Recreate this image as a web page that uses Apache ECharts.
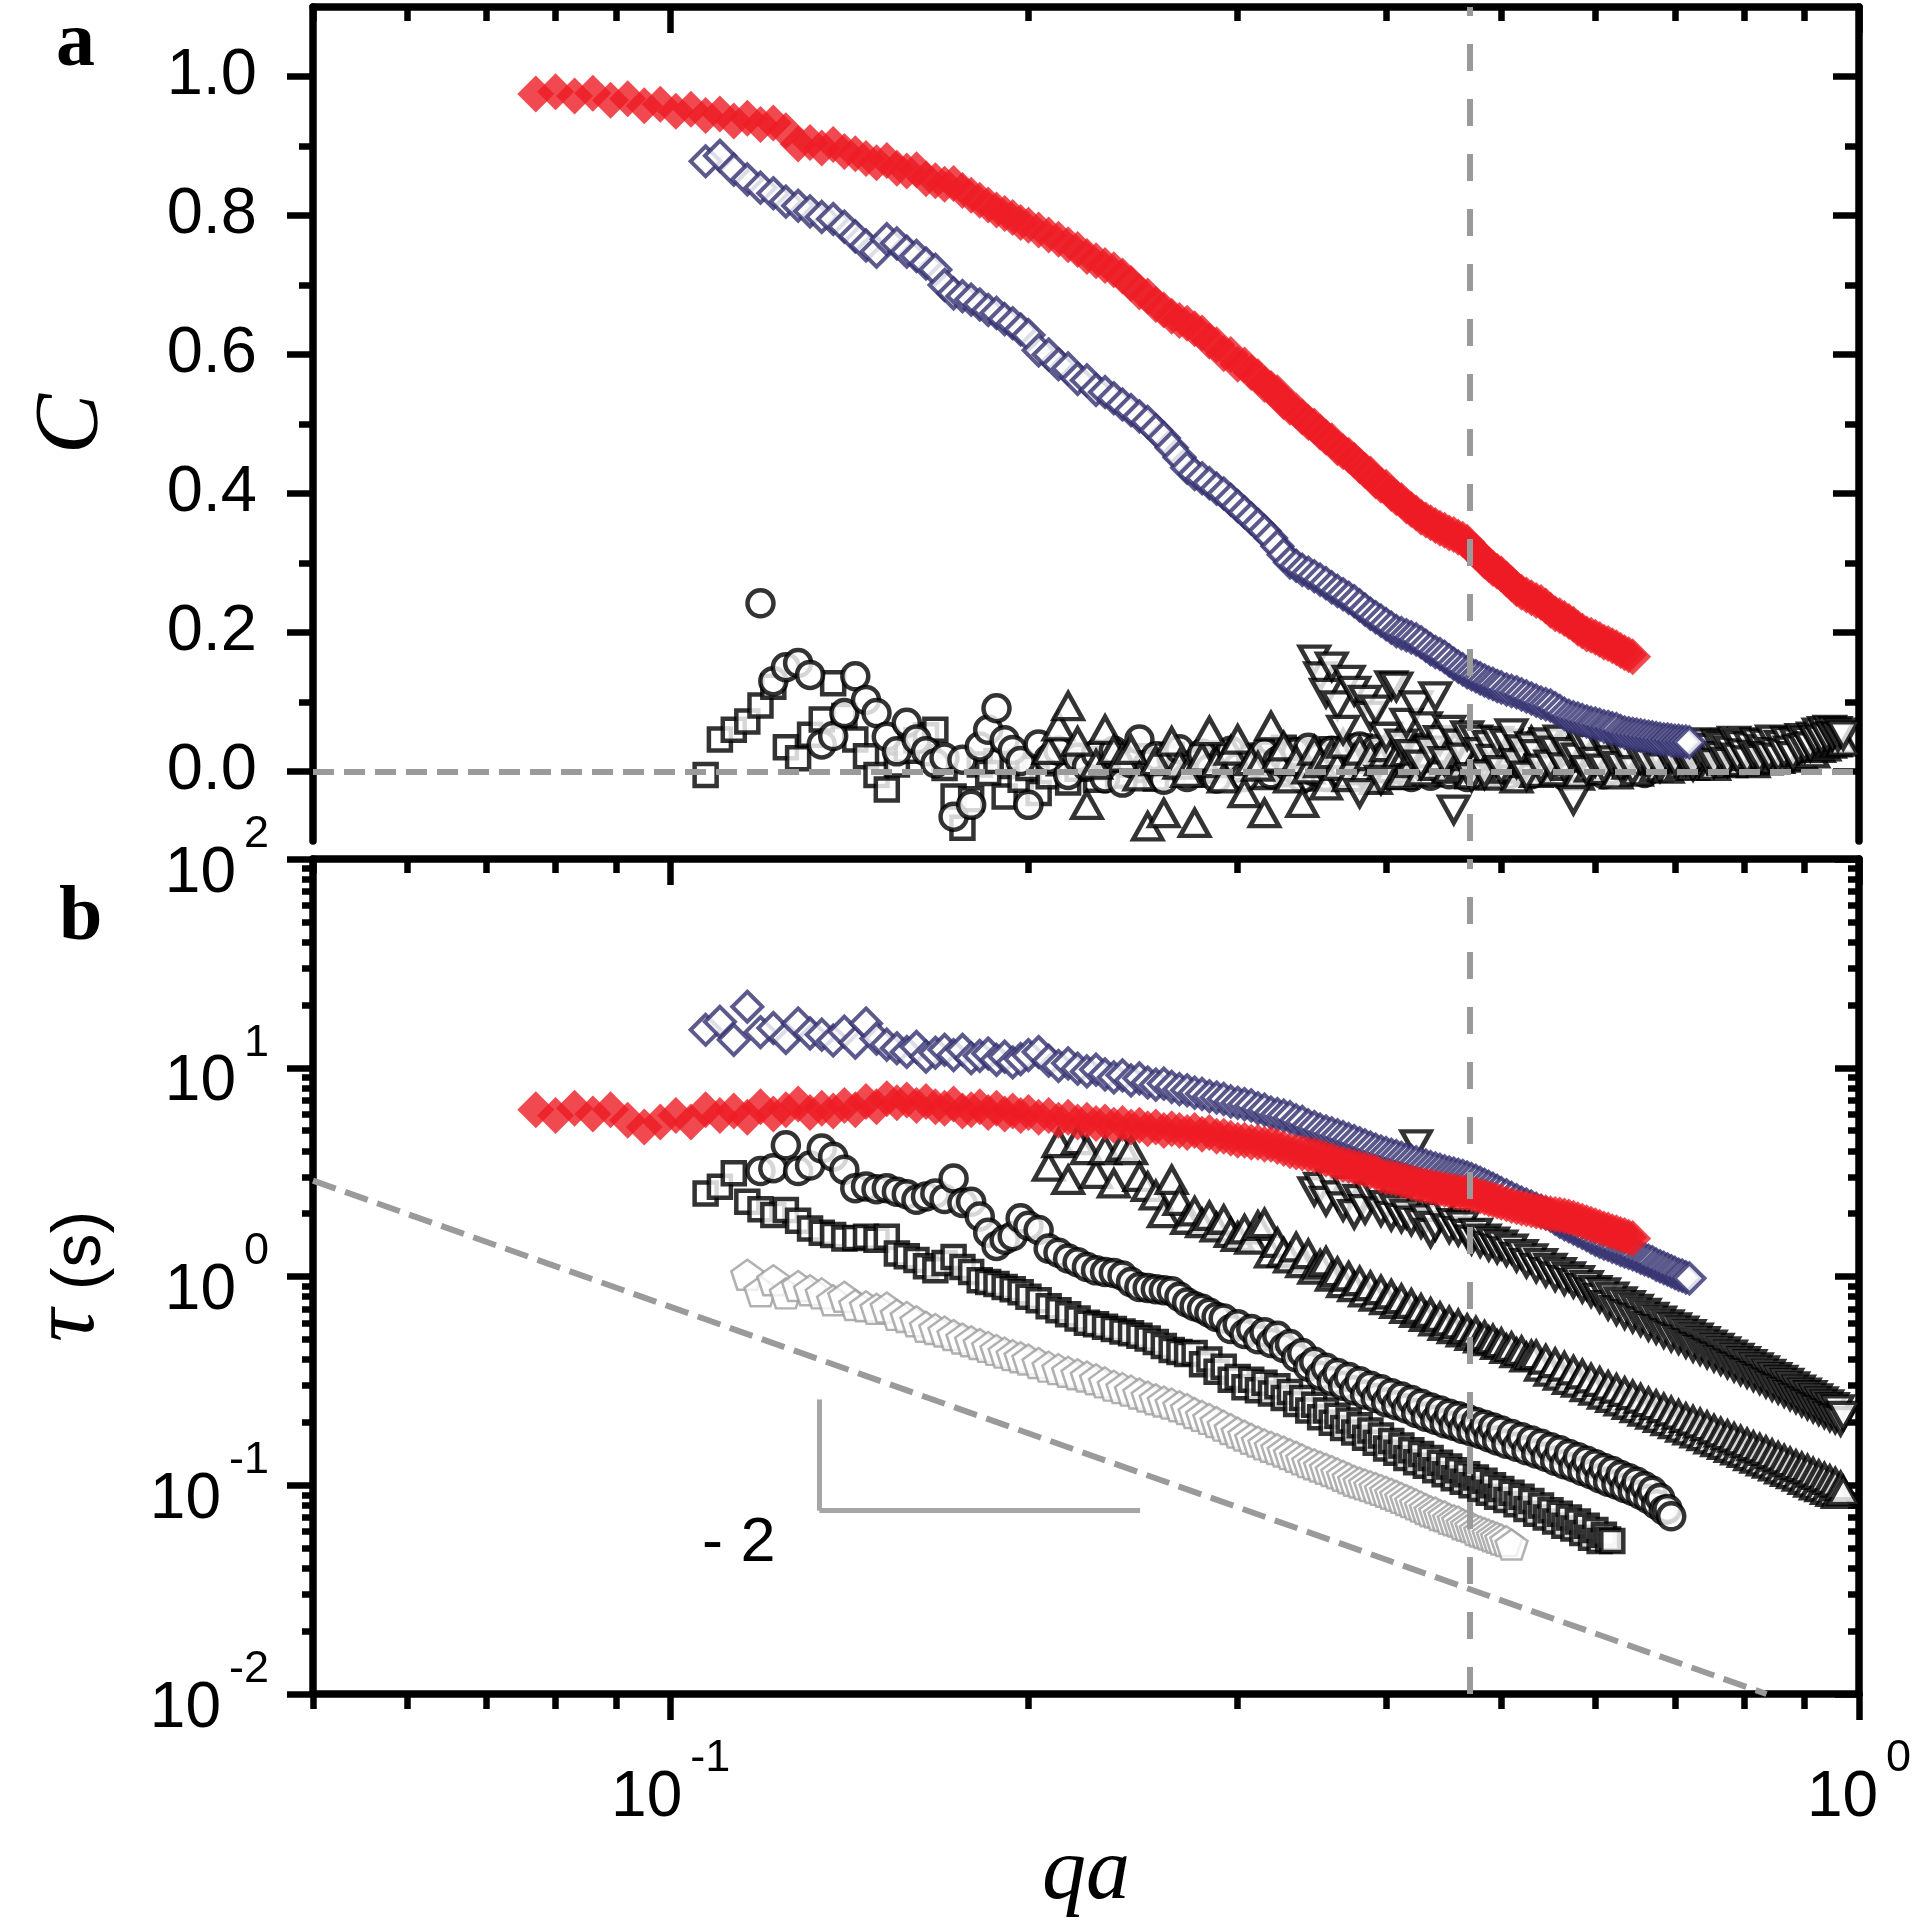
<!DOCTYPE html>
<html>
<head>
<meta charset="utf-8">
<title>C and tau against qa</title>
<script src="https://cdn.jsdelivr.net/npm/echarts@6/dist/echarts.min.js"></script>
<style>
  html, body { margin: 0; padding: 0; background: #fff; }
  #chart { width: 1918px; height: 1923px; }
</style>
</head>
<body>
<div id="chart"></div>
<script>
// qa values shared by all data sets (each set starts at its own index)
const qa = [
  0.077, 0.080, 0.083, 0.086, 0.089, 0.092, 0.095, 0.098, 0.101, 0.104,
  0.107, 0.110, 0.113, 0.116, 0.119, 0.122, 0.125, 0.128, 0.131, 0.134,
  0.137, 0.140, 0.143, 0.146, 0.149, 0.152, 0.155, 0.158, 0.161, 0.164,
  0.167, 0.170, 0.173, 0.176, 0.179, 0.182, 0.185, 0.188, 0.191, 0.194,
  0.197, 0.200, 0.204, 0.208, 0.212, 0.216, 0.220, 0.224, 0.228, 0.232,
  0.236, 0.240, 0.244, 0.248, 0.252, 0.256, 0.260, 0.264, 0.268, 0.272,
  0.276, 0.280, 0.284, 0.288, 0.292, 0.296, 0.300, 0.304, 0.308, 0.312,
  0.316, 0.320, 0.324, 0.328, 0.332, 0.336, 0.340, 0.344, 0.348, 0.352,
  0.356, 0.360, 0.364, 0.368, 0.372, 0.376, 0.380, 0.384, 0.388, 0.392,
  0.396, 0.400, 0.404, 0.408, 0.412, 0.416, 0.420, 0.424, 0.428, 0.432,
  0.436, 0.440, 0.444, 0.448, 0.452, 0.456, 0.460, 0.464, 0.468, 0.472,
  0.476, 0.480, 0.484, 0.488, 0.492, 0.496, 0.500, 0.505, 0.510, 0.515,
  0.520, 0.525, 0.530, 0.535, 0.540, 0.545, 0.550, 0.555, 0.560, 0.565,
  0.570, 0.575, 0.580, 0.585, 0.590, 0.595, 0.600, 0.605, 0.610, 0.615,
  0.620, 0.625, 0.630, 0.635, 0.640, 0.645, 0.650, 0.655, 0.660, 0.665,
  0.670, 0.675, 0.680, 0.685, 0.690, 0.695, 0.700, 0.705, 0.710, 0.715,
  0.720, 0.725, 0.730, 0.735, 0.740, 0.745, 0.750, 0.755, 0.760, 0.765,
  0.770, 0.775, 0.780, 0.785, 0.790, 0.795, 0.800, 0.805, 0.810, 0.815,
  0.820, 0.825, 0.830, 0.835, 0.840, 0.845, 0.850, 0.855, 0.860, 0.865,
  0.870, 0.875, 0.880, 0.885, 0.890, 0.895, 0.900, 0.905, 0.910, 0.915,
  0.920, 0.925, 0.930, 0.935, 0.940, 0.945, 0.950, 0.955, 0.960, 0.965,
  0.970
];

// red filled diamonds
const redStart = 0;
const redC = [
  0.975, 0.978, 0.972, 0.976, 0.966, 0.968, 0.958, 0.960, 0.950, 0.953,
  0.944, 0.946, 0.936, 0.940, 0.931, 0.933, 0.922, 0.903, 0.905, 0.897,
  0.902, 0.892, 0.889, 0.882, 0.876, 0.879, 0.868, 0.864, 0.866, 0.853,
  0.850, 0.845, 0.846, 0.836, 0.829, 0.822, 0.815, 0.808, 0.803, 0.797,
  0.790, 0.786, 0.779, 0.772, 0.766, 0.758, 0.751, 0.741, 0.735, 0.728,
  0.722, 0.713, 0.702, 0.690, 0.684, 0.672, 0.664, 0.655, 0.649, 0.645,
  0.637, 0.631, 0.619, 0.614, 0.601, 0.600, 0.586, 0.585, 0.574, 0.568,
  0.557, 0.551, 0.545, 0.532, 0.524, 0.519, 0.510, 0.502, 0.497, 0.488,
  0.481, 0.476, 0.466, 0.460, 0.455, 0.448, 0.440, 0.433, 0.428, 0.418,
  0.412, 0.409, 0.400, 0.394, 0.390, 0.382, 0.377, 0.372, 0.366, 0.362,
  0.358, 0.354, 0.350, 0.347, 0.343, 0.341, 0.337, 0.334, 0.330, 0.322,
  0.316, 0.310, 0.303, 0.298, 0.292, 0.288, 0.284, 0.277, 0.270, 0.263,
  0.258, 0.254, 0.250, 0.246, 0.243, 0.238, 0.232, 0.227, 0.224, 0.220,
  0.216, 0.212, 0.206, 0.202, 0.198, 0.196, 0.193, 0.190, 0.186, 0.184,
  0.181, 0.178, 0.174, 0.171, 0.168, 0.165
];
const redTau = [
  6.3, 5.9, 6.4, 6.0, 6.3, 5.6, 5.2, 5.5, 5.9, 5.5,
  6.3, 5.9, 6.2, 5.8, 6.5, 6.0, 6.3, 6.7, 6.1, 6.4,
  6.2, 6.6, 6.3, 6.9, 6.5, 7.1, 6.8, 7.0, 6.6, 6.9,
  6.5, 6.4, 6.7, 6.2, 6.3, 6.5, 6.1, 6.4, 6.0, 6.2,
  5.9, 6.1, 5.8, 5.9, 5.6, 5.8, 5.5, 5.6, 5.4, 5.5,
  5.3, 5.4, 5.2, 5.3, 5.1, 5.2, 5.0, 5.1, 5.0, 4.9,
  5.0, 4.8, 4.9, 4.7, 4.7, 4.6, 4.5, 4.5, 4.4, 4.4,
  4.3, 4.3, 4.2, 4.1, 4.0, 3.95, 3.9, 3.85, 3.8, 3.75,
  3.65, 3.6, 3.5, 3.45, 3.4, 3.35, 3.3, 3.25, 3.2, 3.15,
  3.05, 3.0, 2.98, 2.94, 2.9, 2.86, 2.82, 2.78, 2.75, 2.72,
  2.69, 2.66, 2.63, 2.61, 2.58, 2.56, 2.54, 2.52, 2.51, 2.49,
  2.46, 2.43, 2.40, 2.36, 2.33, 2.30, 2.27, 2.23, 2.19, 2.16,
  2.13, 2.11, 2.09, 2.06, 2.04, 2.02, 2.00, 1.98, 1.97, 1.95,
  1.93, 1.90, 1.87, 1.84, 1.81, 1.78, 1.75, 1.72, 1.69, 1.67,
  1.64, 1.62, 1.59, 1.57, 1.54, 1.52
];

// navy open diamonds
const navyStart = 10;
const navyC = [
  0.878, 0.886, 0.866, 0.852, 0.840, 0.832, 0.820, 0.814, 0.806, 0.798,
  0.795, 0.784, 0.770, 0.757, 0.748, 0.766, 0.760, 0.748, 0.742, 0.731,
  0.722, 0.700, 0.688, 0.684, 0.679, 0.672, 0.664, 0.660, 0.651, 0.645,
  0.636, 0.628, 0.606, 0.600, 0.586, 0.580, 0.565, 0.563, 0.549, 0.546,
  0.537, 0.528, 0.520, 0.511, 0.503, 0.491, 0.480, 0.466, 0.452, 0.437,
  0.428, 0.422, 0.415, 0.407, 0.400, 0.391, 0.382, 0.373, 0.364, 0.355,
  0.346, 0.336, 0.324, 0.312, 0.301, 0.296, 0.290, 0.286, 0.281, 0.276,
  0.271, 0.265, 0.260, 0.255, 0.250, 0.245, 0.239, 0.233, 0.227, 0.222,
  0.217, 0.212, 0.207, 0.202, 0.199, 0.196, 0.193, 0.190, 0.186, 0.181,
  0.176, 0.172, 0.169, 0.165, 0.160, 0.155, 0.151, 0.147, 0.143, 0.140,
  0.137, 0.134, 0.131, 0.128, 0.126, 0.123, 0.121, 0.118, 0.116, 0.114,
  0.111, 0.108, 0.105, 0.102, 0.099, 0.097, 0.095, 0.091, 0.087, 0.083,
  0.080, 0.078, 0.076, 0.074, 0.072, 0.070, 0.069, 0.067, 0.065, 0.064,
  0.062, 0.061, 0.058, 0.056, 0.055, 0.054, 0.053, 0.052, 0.051, 0.050,
  0.049, 0.048, 0.047, 0.046, 0.046, 0.045, 0.044, 0.044, 0.043, 0.043,
  0.042
];
const navyTau = [
  15.2, 16.6, 13.6, 19.6, 14.8, 15.5, 13.9, 16.3, 14.6, 14.4,
  13.5, 14.9, 13.2, 16.3, 13.8, 12.9, 12.4, 11.9, 12.6, 11.3,
  11.8, 12.2, 11.5, 12.2, 11.1, 11.4, 11.7, 10.9, 11.3, 10.6,
  11.0, 11.5, 11.9, 10.8, 10.2, 10.5, 9.9, 9.6, 9.8, 9.3,
  9.0, 9.2, 8.7, 8.9, 8.5, 8.3, 8.4, 8.1, 7.9, 7.8,
  7.6, 7.5, 7.3, 7.2, 7.1, 6.9, 6.8, 6.7, 6.6, 6.4,
  6.3, 6.1, 6.0, 5.9, 5.8, 5.6, 5.5, 5.3, 5.2, 5.05,
  4.95, 4.85, 4.75, 4.65, 4.55, 4.45, 4.35, 4.25, 4.15, 4.05,
  3.97, 3.9, 3.83, 3.77, 3.7, 3.64, 3.58, 3.52, 3.46, 3.40,
  3.34, 3.29, 3.24, 3.19, 3.15, 3.11, 3.07, 3.03, 2.98, 2.93,
  2.87, 2.81, 2.75, 2.69, 2.63, 2.57, 2.51, 2.45, 2.38, 2.32,
  2.26, 2.21, 2.16, 2.11, 2.06, 2.01, 1.96, 1.89, 1.83, 1.78,
  1.74, 1.70, 1.66, 1.62, 1.58, 1.54, 1.50, 1.47, 1.44, 1.42,
  1.39, 1.37, 1.34, 1.32, 1.30, 1.28, 1.26, 1.23, 1.21, 1.19,
  1.17, 1.14, 1.12, 1.10, 1.08, 1.06, 1.04, 1.02, 1.01, 0.99,
  0.98
];

// open circles
const circStart = 14;
const circC = [
  0.242, 0.130, 0.150, 0.156, 0.139, 0.039, 0.051, 0.084, 0.137, 0.103,
  0.084, 0.050, 0.029, 0.070, 0.046, 0.029, 0.012, 0.020, -0.065, 0.017,
  -0.048, 0.036, 0.060, 0.091, 0.045, 0.031, 0.015, -0.048, 0.039, 0.018,
  0.030, -0.005, 0.020, 0.007, 0.025, -0.010, 0.030, -0.016, 0.012, 0.046,
  0.010, 0.022, -0.012, 0.018, 0.032, -0.008, 0.012, 0.026, 0.004, -0.010,
  0.018, 0.030, 0.006, -0.008, 0.020, 0.012, 0.028, -0.004, 0.015, 0.022,
  0.005, 0.028, -0.010, 0.034, 0.000, 0.022, -0.008, 0.030, 0.012, -0.004,
  0.026, 0.004, 0.036, -0.006, 0.020, 0.032, -0.010, 0.024, 0.008, 0.035,
  0.002, 0.028, -0.008, 0.018, 0.034, 0.006, -0.006, 0.030, 0.014, 0.024,
  -0.004, 0.032, 0.010, 0.026, -0.008, 0.022, 0.036, 0.004, 0.018, -0.002,
  0.030, 0.012, 0.024, -0.006, 0.034, 0.008, 0.020, 0.028, -0.004, 0.016,
  0.032, 0.002, 0.022, 0.010, 0.030, -0.006, 0.018, 0.026, 0.006, 0.034,
  0.000, 0.024, 0.014, 0.030, -0.004, 0.020, 0.028, 0.008, 0.016, 0.032,
  0.004, 0.022, 0.012, 0.030, -0.002, 0.018, 0.026, 0.010, 0.020, 0.006,
  0.024, 0.014
];
const circTau = [
  3.2, 3.3, 4.25, 3.2, 3.4, 4.1, 3.75, 3.25, 2.65, 2.7,
  2.62, 2.65, 2.55, 2.48, 2.33, 2.42, 2.5, 2.35, 2.95, 2.25,
  2.28, 1.94, 1.62, 1.40, 1.50, 1.56, 1.90, 1.75, 1.67, 1.36,
  1.30, 1.22, 1.17, 1.11, 1.07, 1.05, 1.04, 1.01, 0.94, 0.89,
  0.88, 0.87, 0.86, 0.85, 0.80, 0.75, 0.72, 0.70, 0.67, 0.64,
  0.63, 0.56, 0.59, 0.53, 0.56, 0.50, 0.54, 0.48, 0.52, 0.455,
  0.475, 0.41, 0.43, 0.37, 0.39, 0.335, 0.365, 0.315, 0.345, 0.30,
  0.33, 0.285, 0.315, 0.272, 0.30, 0.262, 0.288, 0.25, 0.276, 0.242,
  0.266, 0.233, 0.256, 0.222, 0.246, 0.213, 0.236, 0.206, 0.228, 0.198,
  0.22, 0.193, 0.214, 0.186, 0.208, 0.181, 0.201, 0.176, 0.195, 0.170,
  0.189, 0.164, 0.183, 0.158, 0.176, 0.153, 0.170, 0.147, 0.164, 0.142,
  0.158, 0.137, 0.152, 0.131, 0.147, 0.126, 0.141, 0.122, 0.136, 0.117,
  0.131, 0.113, 0.126, 0.108, 0.121, 0.104, 0.117, 0.101, 0.112, 0.097,
  0.108, 0.094, 0.104, 0.090, 0.099, 0.086, 0.094, 0.081, 0.087, 0.076,
  0.077, 0.071
];

// open squares
const sqStart = 10;
const sqC = [
  -0.005, 0.046, 0.060, 0.072, 0.095, 0.122, 0.035, 0.019, 0.053, 0.075,
  0.127, 0.080, 0.046, 0.022, -0.005, -0.026, 0.010, 0.030, 0.045, 0.052,
  0.060, 0.005, -0.036, -0.081, -0.040, 0.010, -0.002, 0.015, -0.036, 0.008,
  -0.012, 0.005, -0.031, -0.007, 0.012, -0.016, 0.004, 0.018, -0.012, 0.006,
  0.015, -0.006, 0.010, 0.022, 0.002, -0.010, 0.016, 0.024, 0.005, 0.012,
  -0.004, 0.020, 0.008, 0.015, 0.026, 0.003, 0.012, 0.020, 0.006, 0.017,
  -0.008, 0.026, 0.006, 0.034, -0.004, 0.020, 0.030, 0.002, 0.024, -0.010,
  0.018, 0.032, 0.004, 0.026, -0.006, 0.014, 0.036, 0.008, 0.022, -0.002,
  0.030, 0.010, 0.024, -0.008, 0.016, 0.034, 0.002, 0.020, 0.028, 0.006,
  -0.004, 0.026, 0.012, 0.032, 0.000, 0.018, 0.030, 0.008, -0.006, 0.022,
  0.034, 0.004, 0.016, 0.028, -0.002, 0.020, 0.010, 0.030, 0.006, 0.024,
  -0.004, 0.018, 0.032, 0.008, 0.022, 0.000, 0.028, 0.014, 0.034, 0.004,
  0.020, 0.010, 0.030, -0.002, 0.024, 0.012, 0.018, 0.030, 0.006, 0.016,
  0.022
];
const sqTau = [
  2.50, 2.69, 3.12, 2.28, 2.10, 1.97, 2.08, 1.85, 1.70, 1.62,
  1.58, 1.52, 1.53, 1.55, 1.50, 1.55, 1.29, 1.25, 1.20, 1.12,
  1.07, 1.16, 1.24, 1.11, 1.05, 0.96, 0.94, 0.92, 0.89, 0.87,
  0.84, 0.80, 0.77, 0.72, 0.69, 0.66, 0.63, 0.60, 0.59, 0.575,
  0.56, 0.545, 0.535, 0.52, 0.505, 0.485, 0.465, 0.445, 0.435, 0.425,
  0.43, 0.38, 0.40, 0.35, 0.37, 0.32, 0.33, 0.295, 0.32, 0.285,
  0.31, 0.275, 0.298, 0.262, 0.28, 0.245, 0.262, 0.228, 0.243, 0.212,
  0.228, 0.199, 0.215, 0.188, 0.204, 0.179, 0.194, 0.169, 0.183, 0.160,
  0.173, 0.150, 0.163, 0.143, 0.155, 0.135, 0.147, 0.129, 0.141, 0.124,
  0.135, 0.118, 0.128, 0.113, 0.123, 0.108, 0.118, 0.104, 0.113, 0.100,
  0.109, 0.096, 0.105, 0.092, 0.100, 0.088, 0.096, 0.085, 0.092, 0.081,
  0.088, 0.077, 0.084, 0.073, 0.080, 0.070, 0.076, 0.067, 0.073, 0.064,
  0.070, 0.062, 0.067, 0.059, 0.064, 0.056, 0.061, 0.054, 0.058, 0.055,
  0.054
];

// grey open pentagons (lower panel only)
const pentStart = 13;
const pentTau = [
  1.02, 0.85, 0.96, 0.83, 0.90, 0.86, 0.83, 0.77, 0.80, 0.73,
  0.72, 0.70, 0.71, 0.655, 0.64, 0.61, 0.575, 0.56, 0.545, 0.525,
  0.505, 0.49, 0.475, 0.46, 0.445, 0.432, 0.42, 0.41, 0.40, 0.385,
  0.37, 0.36, 0.35, 0.34, 0.332, 0.322, 0.311, 0.30, 0.292, 0.284,
  0.275, 0.266, 0.258, 0.252, 0.246, 0.239, 0.232, 0.222, 0.215, 0.208,
  0.201, 0.193, 0.186, 0.179, 0.173, 0.167, 0.162, 0.157, 0.153, 0.149,
  0.145, 0.141, 0.137, 0.133, 0.129, 0.126, 0.123, 0.12, 0.117, 0.114,
  0.111, 0.108, 0.105, 0.103, 0.101, 0.099, 0.097, 0.095, 0.093, 0.091,
  0.089, 0.087, 0.085, 0.083, 0.081, 0.079, 0.077, 0.075, 0.074, 0.072,
  0.071, 0.069, 0.068, 0.067, 0.065, 0.064, 0.063, 0.061, 0.060, 0.059,
  0.058, 0.057, 0.056, 0.055, 0.054, 0.052
];

// open up-triangles
const upStart = 43;
const upC = [
  0.031, 0.065, 0.094, 0.043, -0.048, 0.010, 0.060, 0.031, 0.020, 0.031,
  -0.007, -0.079, 0.015, -0.060, 0.043, 0.010, -0.002, -0.074, 0.020, 0.058,
  0.012, -0.010, 0.030, 0.046, -0.031, 0.015, 0.007, -0.060, 0.065, 0.020,
  0.036, -0.010, 0.015, -0.045, 0.003, 0.030, 0.012, -0.020, 0.025, 0.008,
  0.040, -0.008, 0.018, 0.030, 0.002, 0.022, -0.012, 0.015, 0.035, 0.005,
  0.020, -0.005, 0.028, 0.012, 0.030, 0.000, 0.018, 0.026, 0.008, 0.020,
  0.032, 0.004, 0.016, 0.025, 0.010, 0.022, -0.004, 0.015, 0.028, 0.012,
  0.030, -0.006, 0.022, 0.040, 0.004, 0.026, -0.010, 0.034, 0.012, 0.044,
  -0.002, 0.028, 0.016, 0.038, 0.000, 0.024, 0.042, 0.008, 0.030, -0.006,
  0.020, 0.036, 0.006, 0.028, 0.044, 0.002, 0.024, 0.034, -0.004, 0.018,
  0.040, 0.010, 0.030, 0.000, 0.036, 0.016, 0.026, 0.042, 0.006, 0.022,
  0.034, 0.004, 0.028, 0.018, 0.040, 0.010, 0.024, 0.032, 0.008, 0.036,
  0.014, 0.030, 0.020, 0.038, 0.008, 0.026, 0.034, 0.016, 0.040, 0.012,
  0.028, 0.036, 0.014, 0.032, 0.022, 0.040, 0.012, 0.030, 0.024, 0.038,
  0.016, 0.034, 0.026, 0.040, 0.018, 0.032, 0.024, 0.042, 0.020, 0.036,
  0.028, 0.044, 0.022, 0.038, 0.030, 0.046, 0.026, 0.042, 0.034, 0.050,
  0.036, 0.048, 0.040, 0.054, 0.042, 0.050, 0.046, 0.043
];
const upTau = [
  3.36, 4.36, 2.90, 4.50, 4.03, 3.10, 4.03, 2.79, 4.19, 4.03,
  3.00, 2.69, 2.45, 2.01, 2.90, 2.30, 1.87, 2.05, 1.80, 1.95,
  1.72, 1.87, 1.62, 1.55, 1.68, 1.50, 1.75, 1.80, 1.29, 1.45,
  1.30, 1.22, 1.38, 1.16, 1.28, 1.08, 1.14, 1.18, 1.00, 1.05,
  0.93, 1.00, 0.89, 0.95, 0.84, 0.90, 0.80, 0.86, 0.77, 0.82,
  0.74, 0.78, 0.70, 0.74, 0.67, 0.70, 0.64, 0.67, 0.61, 0.64,
  0.58, 0.61, 0.56, 0.59, 0.54, 0.56, 0.52, 0.545, 0.505, 0.52,
  0.49, 0.50, 0.47, 0.48, 0.45, 0.46, 0.43, 0.44, 0.41, 0.42,
  0.42, 0.37, 0.40, 0.35, 0.385, 0.335, 0.37, 0.32, 0.355, 0.31,
  0.34, 0.295, 0.325, 0.284, 0.313, 0.272, 0.30, 0.262, 0.29, 0.252,
  0.28, 0.243, 0.27, 0.234, 0.26, 0.225, 0.25, 0.218, 0.242, 0.21,
  0.234, 0.203, 0.226, 0.196, 0.218, 0.189, 0.21, 0.183, 0.204, 0.177,
  0.198, 0.172, 0.192, 0.166, 0.185, 0.161, 0.179, 0.156, 0.174, 0.151,
  0.169, 0.147, 0.164, 0.143, 0.159, 0.138, 0.154, 0.134, 0.15, 0.13,
  0.146, 0.127, 0.141, 0.123, 0.137, 0.119, 0.133, 0.116, 0.129, 0.113,
  0.125, 0.11, 0.122, 0.106, 0.119, 0.103, 0.115, 0.10, 0.112, 0.098,
  0.109, 0.095, 0.106, 0.093, 0.103, 0.091, 0.099, 0.094
];

// open down-triangles
const downStart = 78;
const downC = [
  0.161, 0.137, 0.113, 0.151, 0.095, 0.060, 0.132, 0.116, -0.031, 0.103,
  0.080, 0.089, -0.012, 0.050, 0.124, 0.122, 0.040, 0.070, 0.025, 0.095,
  0.010, 0.065, 0.030, 0.108, 0.045, 0.015, 0.060, -0.055, 0.040, 0.020,
  0.052, -0.008, 0.046, 0.028, -0.004, 0.038, 0.018, 0.044, 0.002, 0.040,
  0.055, 0.012, 0.032, -0.006, 0.036, 0.025, 0.004, 0.042, 0.010, 0.030,
  0.046, 0.006, 0.028, -0.041, 0.020, 0.040, 0.002, 0.034, 0.014, 0.044,
  0.004, 0.030, 0.016, 0.038, 0.008, 0.034, 0.020, 0.002, 0.036, 0.018,
  0.042, 0.012, 0.041, 0.026, 0.006, 0.034, 0.022, 0.040, 0.014, 0.030,
  0.038, 0.016, 0.032, 0.008, 0.036, 0.024, 0.042, 0.018, 0.034, 0.012,
  0.040, 0.022, 0.036, 0.014, 0.030, 0.044, 0.020, 0.038, 0.026, 0.016,
  0.036, 0.024, 0.042, 0.018, 0.032, 0.040, 0.022, 0.046, 0.028, 0.020,
  0.038, 0.026, 0.044, 0.030, 0.022, 0.042, 0.032, 0.048, 0.034, 0.044,
  0.036, 0.050, 0.045, 0.056, 0.046, 0.058, 0.049, 0.060, 0.051, 0.058,
  0.050, 0.056, 0.052
];
const downTau = [
  2.56, 2.69, 2.30, 2.79, 2.45, 2.17, 2.60, 1.99, 2.35, 2.10,
  2.45, 2.56, 2.05, 2.20, 1.95, 2.10, 1.91, 2.00, 1.85, 4.30,
  1.80, 1.90, 1.62, 1.75, 1.95, 2.17, 1.70, 1.80, 1.65, 1.76,
  1.60, 1.50, 1.62, 1.46, 1.52, 1.40, 1.47, 1.36, 1.42, 1.32,
  1.36, 1.24, 1.28, 1.16, 1.22, 1.10, 1.16, 1.05, 1.10, 1.00,
  1.05, 0.96, 1.00, 0.93, 0.96, 0.88, 0.91, 0.84, 0.86, 0.79,
  0.84, 0.73, 0.80, 0.69, 0.76, 0.66, 0.73, 0.635, 0.70, 0.61,
  0.67, 0.58, 0.64, 0.56, 0.615, 0.535, 0.59, 0.515, 0.57, 0.50,
  0.55, 0.48, 0.53, 0.46, 0.51, 0.445, 0.49, 0.428, 0.472, 0.413,
  0.455, 0.398, 0.438, 0.383, 0.422, 0.37, 0.407, 0.356, 0.393, 0.345,
  0.38, 0.333, 0.367, 0.322, 0.355, 0.31, 0.342, 0.299, 0.33, 0.29,
  0.32, 0.28, 0.309, 0.27, 0.298, 0.261, 0.287, 0.252, 0.278, 0.244,
  0.27, 0.236, 0.261, 0.229, 0.252, 0.221, 0.244, 0.214, 0.237, 0.209,
  0.231, 0.203, 0.215
];

// guides: qa cut, slope -2 dashed line, slope triangle
const qaCut = 0.47;
const slopeLine = [[0.05, 2.88], [0.836, 0.01]];
const slopeMark = [[0.1334, 0.2576], [0.1334, 0.0755], [0.2483, 0.0755]];

// tick values
const xMajor = [0.1, 1];
const xMinor = [0.05, 0.06, 0.07, 0.08, 0.09, 0.2, 0.3, 0.4, 0.5, 0.6, 0.7, 0.8, 0.9];
const cMajor = [0, 0.2, 0.4, 0.6, 0.8, 1.0];
const cMinor = [0.1, 0.3, 0.5, 0.7, 0.9];
const tauMajor = [0.01, 0.1, 1, 10, 100];
const tauMinor = [0.02, 0.03, 0.04, 0.05, 0.06, 0.07, 0.08, 0.09,
  0.2, 0.3, 0.4, 0.5, 0.6, 0.7, 0.8, 0.9,
  2, 3, 4, 5, 6, 7, 8, 9, 20, 30, 40, 50, 60, 70, 80, 90];

const BLACK = '#000';
const RED = '#ed1c24';
const NAVY = '#33316f';
const GREY = '#9a9a9a';
const SANS = '"Liberation Sans", Arial, sans-serif';
const SERIF = '"Liberation Serif", "Times New Roman", serif';
const PENT = 'path://M50,0 L97.55,34.55 L79.39,90.45 L20.61,90.45 L2.45,34.55 Z';
const DOWN = 'path://M0,0 L10,0 L5,8.66 Z';

const supRich = {
  b: { fontFamily: SANS, fontSize: 64, color: BLACK, verticalAlign: 'bottom', padding: [30, 0, 0, 0] },
  s: { fontFamily: SANS, fontSize: 45, color: BLACK, verticalAlign: 'top', padding: [0, 0, 0, 8] }
};
const powLabel = v => '{b|10}{s|' + Math.round(Math.log10(v)) + '}';

function axis(o) {
  return {
    type: o.type || 'value',
    gridIndex: o.grid,
    position: o.pos,
    min: o.min,
    max: o.max,
    logBase: 10,
    axisLine: { show: !!o.line, onZero: false, lineStyle: { color: BLACK, width: 7.5 } },
    axisTick: { show: true, inside: !!o.inside, length: o.len, customValues: o.ticks,
      lineStyle: { color: BLACK, width: 6.5 } },
    axisLabel: o.label ? Object.assign({ show: true, customValues: o.ticks }, o.label) : { show: false },
    splitLine: { show: false },
    name: o.name,
    nameLocation: 'middle',
    nameGap: o.nameGap,
    nameTextStyle: o.nameStyle
  };
}

const X = { type: 'log', min: 0.05, max: 1 };
const CY = { type: 'value', min: -0.1, max: 1.1 };
const TY = { type: 'log', min: 0.01, max: 100 };

const xAxes = [
  axis(Object.assign({ grid: 0, pos: 'top', line: true, inside: true, len: 26, ticks: xMajor }, X)),
  axis(Object.assign({ grid: 0, pos: 'top', inside: true, len: 14, ticks: xMinor }, X)),
  axis(Object.assign({ grid: 1, pos: 'top', line: true, inside: true, len: 26, ticks: xMajor }, X)),
  axis(Object.assign({ grid: 1, pos: 'top', inside: true, len: 14, ticks: xMinor }, X)),
  axis(Object.assign({ grid: 1, pos: 'bottom', line: true, len: 26, ticks: xMajor,
    label: { margin: 42, formatter: powLabel, rich: supRich },
    name: 'qa', nameGap: 96,
    nameStyle: { fontFamily: SERIF, fontStyle: 'italic', fontSize: 88, color: BLACK } }, X)),
  axis(Object.assign({ grid: 1, pos: 'bottom', len: 15, ticks: xMinor }, X))
];

const yAxes = [
  axis(Object.assign({ grid: 0, pos: 'left', line: true, len: 26, ticks: cMajor,
    label: { margin: 56, fontFamily: SANS, fontSize: 65, color: BLACK, formatter: v => v.toFixed(1) },
    name: 'C', nameGap: 195,
    nameStyle: { fontFamily: SERIF, fontStyle: 'italic', fontSize: 90, color: BLACK } }, CY)),
  axis(Object.assign({ grid: 0, pos: 'left', len: 14, ticks: cMinor }, CY)),
  axis(Object.assign({ grid: 0, pos: 'right', line: true, inside: true, len: 26, ticks: cMajor }, CY)),
  axis(Object.assign({ grid: 0, pos: 'right', inside: true, len: 14, ticks: cMinor }, CY)),
  axis(Object.assign({ grid: 1, pos: 'left', line: true, len: 26, ticks: tauMajor,
    label: { margin: 44, formatter: powLabel, rich: supRich },
    name: '{t|τ}{s| (s)}', nameGap: 198,
    nameStyle: { rich: {
      t: { fontFamily: SERIF, fontStyle: 'italic', fontSize: 92, color: BLACK, verticalAlign: 'bottom' },
      s: { fontFamily: SANS, fontSize: 68, color: BLACK, verticalAlign: 'bottom' }
    } } }, TY)),
  axis(Object.assign({ grid: 1, pos: 'left', len: 11, ticks: tauMinor }, TY)),
  axis(Object.assign({ grid: 1, pos: 'right', line: true, inside: true, len: 24, ticks: tauMajor }, TY)),
  axis(Object.assign({ grid: 1, pos: 'right', inside: true, len: 11, ticks: tauMinor }, TY))
];

function pts(start, ys) {
  const out = [];
  for (let i = 0; i < ys.length; i++) {
    if (qa[start + i] !== undefined) out.push([qa[start + i], ys[i]]);
  }
  return out;
}

const openBlack = { color: '#fff', borderColor: BLACK, borderWidth: 4.5 };
const sets = [
  { start: pentStart, c: null, tau: pentTau, symbol: PENT, size: [32, 30],
    style: { color: '#fff', borderColor: '#9d9d9d', borderWidth: 2.5 } },
  { start: sqStart, c: sqC, tau: sqTau, symbol: 'rect', size: 22, style: openBlack },
  { start: circStart, c: circC, tau: circTau, symbol: 'circle', size: 26, style: openBlack },
  { start: upStart, c: upC, tau: upTau, symbol: 'triangle', size: [29, 26], style: openBlack },
  { start: downStart, c: downC, tau: downTau, symbol: DOWN, size: [29, 26], style: openBlack },
  { start: navyStart, c: navyC, tau: navyTau, symbol: 'diamond', size: 30,
    style: { color: '#fff', borderColor: NAVY, borderWidth: 4 } },
  { start: redStart, c: redC, tau: redTau, symbol: 'diamond', size: 37, style: { color: RED } }
];

const dash = (type, width) => ({ color: GREY, width: width || 6, type: type });

const series = [];
sets.forEach(s => {
  const base = { type: 'scatter', symbol: s.symbol, symbolSize: s.size, itemStyle: s.style,
    silent: true, clip: false, animation: false };
  if (s.c) series.push(Object.assign({ xAxisIndex: 0, yAxisIndex: 0, data: pts(s.start, s.c) }, base));
  series.push(Object.assign({ xAxisIndex: 4, yAxisIndex: 4, data: pts(s.start, s.tau) }, base));
});

// guide lines ride on the two red series (drawn last)
const solidGuide = { color: '#a6a6a6', width: 5, type: 'solid' };
series[series.length - 2].markLine = {
  silent: true, symbol: ['none', 'none'], label: { show: false }, animation: false,
  data: [
    { yAxis: 0, lineStyle: dash([21, 10]) },
    { xAxis: qaCut, lineStyle: dash([27, 28]) }
  ]
};
series[series.length - 1].markLine = {
  silent: true, symbol: ['none', 'none'], label: { show: false }, animation: false,
  data: [
    { xAxis: qaCut, lineStyle: dash([27, 28]) },
    [{ coord: slopeLine[0], lineStyle: dash([24, 10]) }, { coord: slopeLine[1] }],
    [{ coord: slopeMark[0], lineStyle: solidGuide }, { coord: slopeMark[1] }],
    [{ coord: slopeMark[1], lineStyle: solidGuide }, { coord: slopeMark[2] }]
  ]
};

const chart = echarts.init(document.getElementById('chart'));
chart.setOption({
  backgroundColor: '#fff',
  animation: false,
  textStyle: { fontFamily: SANS },
  grid: [
    { left: 313, right: 59, top: 7, height: 834 },
    { left: 313, right: 59, top: 859, height: 835 }
  ],
  xAxis: xAxes,
  yAxis: yAxes,
  series: series,
  graphic: [
    { type: 'text', left: 56, top: 6, style: { text: 'a', font: 'bold 78px "Liberation Serif"', fill: BLACK } },
    { type: 'text', left: 59, top: 880, style: { text: 'b', font: 'bold 78px "Liberation Serif"', fill: BLACK } },
    { type: 'text', left: 702, top: 1512, style: { text: '- 2', font: '63px "Liberation Sans"', fill: BLACK } }
  ]
});
</script>
</body>
</html>
